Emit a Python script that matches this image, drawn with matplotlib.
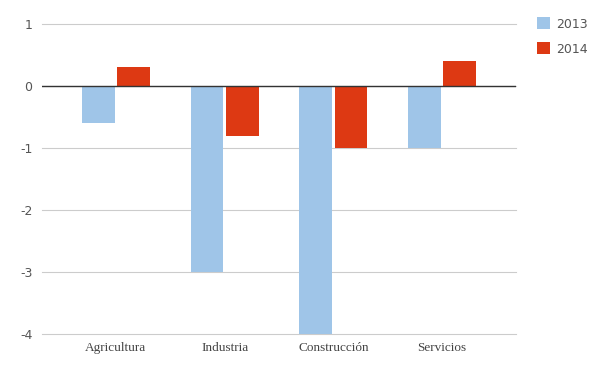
import matplotlib
matplotlib.use("Agg")
import matplotlib.pyplot as plt
import numpy as np

categories = ["Agricultura", "Industria", "Construcción", "Servicios"]
series_names = ["2013", "2014"]
values_2013 = [-0.6, -3.0, -4.0, -1.0]
values_2014 = [0.3, -0.8, -1.0, 0.4]
yticks = [1, 0, -1, -2, -3, -4]

c2013 = "#9fc5e8"
c2014 = "#dd3913"

fig = plt.figure(figsize=(6, 3.71), dpi=100)
ax = fig.add_axes([42/600, 1-334/371, (516-42)/600, (334-24)/371])

x = np.arange(len(categories))
w = 0.30
off = 0.163
ax.bar(x - off, values_2013, w, color=c2013, label=series_names[0], zorder=2)
ax.bar(x + off, values_2014, w, color=c2014, label=series_names[1], zorder=2)

ax.set_xlim(-0.68, 3.68)
ax.set_ylim(-4, 1)
ax.set_yticks(yticks)
ax.set_yticklabels([str(t) for t in yticks])
ax.yaxis.grid(True, color="#cccccc", linewidth=0.8, zorder=0)
for gl in ax.get_ygridlines():
    gl.set_clip_on(False)
ax.axhline(0, color="#333333", linewidth=1, zorder=3)
for s in ax.spines.values():
    s.set_visible(False)
ax.tick_params(axis="y", length=0, pad=7, labelsize=9, labelcolor="#555555")
ax.tick_params(axis="x", length=0, pad=6)
ax.set_xticks(x)
ax.set_xticklabels(categories, family="Liberation Serif", fontsize=9.5, color="#444444")

leg = fig.legend(loc="upper left", bbox_to_anchor=(526/600, 1-6/371), frameon=False,
                 fontsize=9, handlelength=1.0, handleheight=1.1, handletextpad=0.5,
                 labelspacing=0.95, labelcolor="#555555")

fig.savefig("out.png", dpi=100)
